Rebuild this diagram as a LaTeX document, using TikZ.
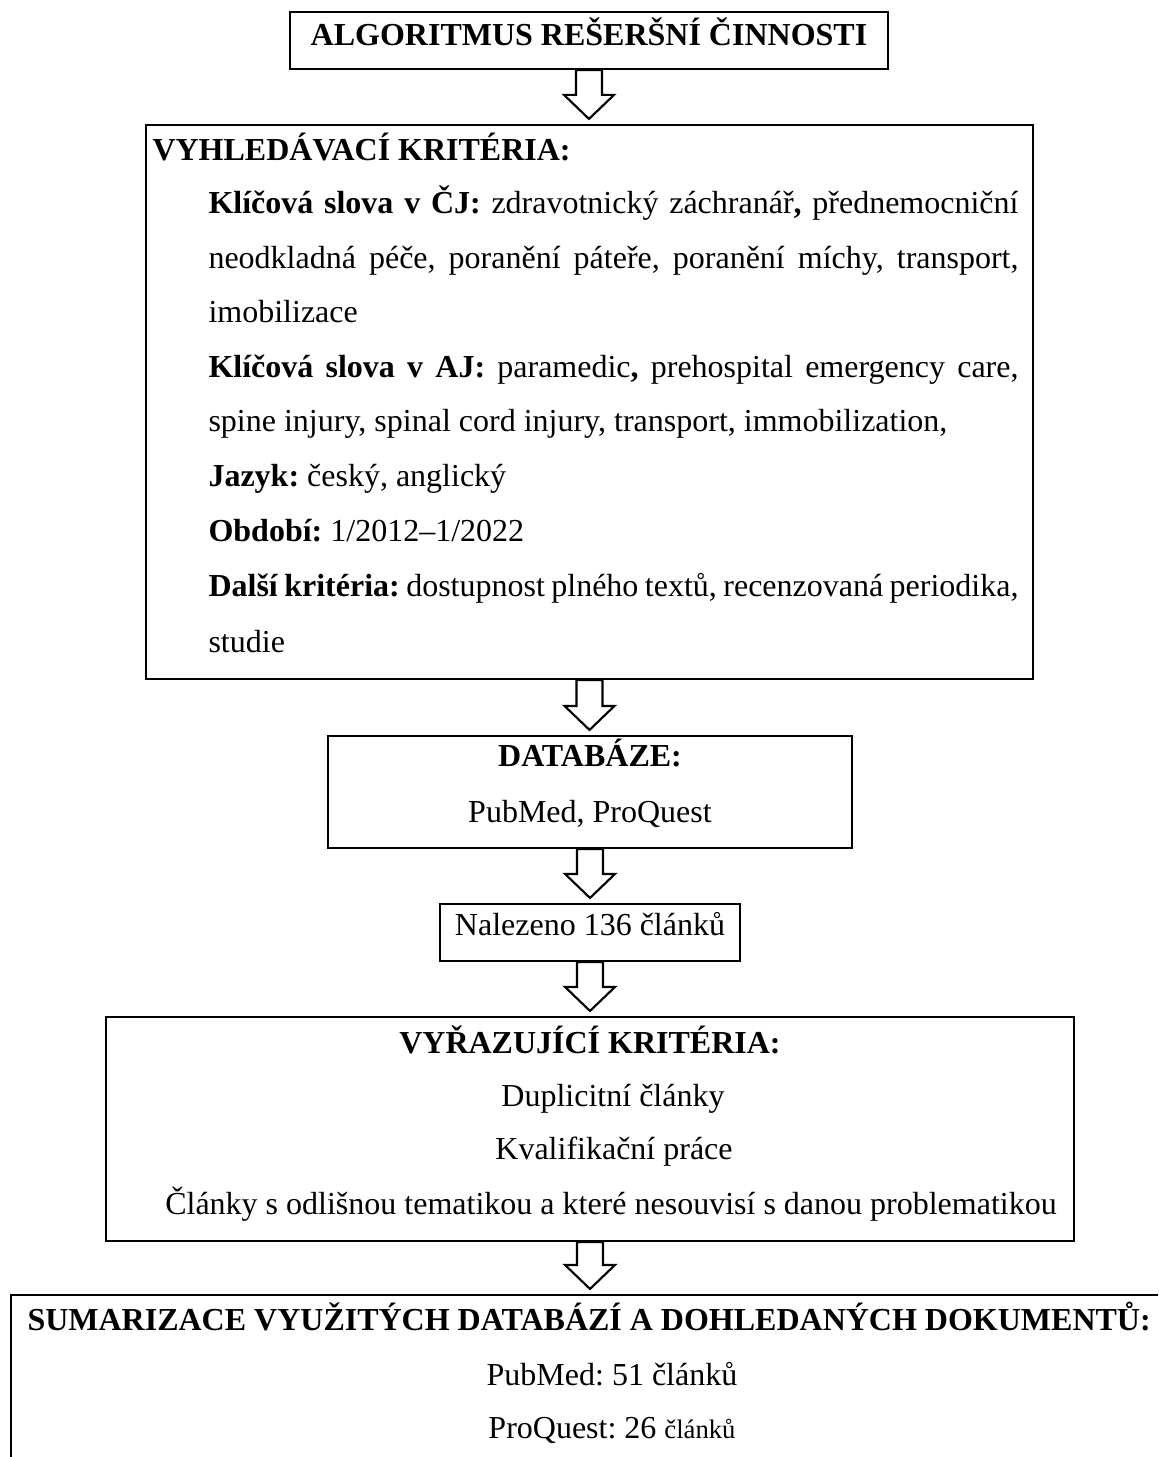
\documentclass[tikz,border=0pt]{standalone}
\usepackage{fontspec}
\setmainfont{Liberation Serif}
\usetikzlibrary{calc}
\frenchspacing
\tikzset{
  box/.style={draw, line width=0.8pt, rectangle, inner sep=0pt},
  txt/.style={anchor=base, inner sep=0pt, font=\fontsize{12pt}{14pt}\selectfont},
  txtw/.style={txt, anchor=base west},
  barrow/.style={draw, line width=0.8pt, fill=white, line join=miter},
}
\newcommand\blockarrow[2]{%
  \path[barrow] let \p1=(#1.south), \p2=(#2.north) in
  (\x1-4.875pt,\y1) -- (\x1-4.875pt,\y2+10.875pt) -- (\x1-9.375pt,\y2+10.875pt)
  -- (\x1,\y2+1.875pt) -- (\x1+9.375pt,\y2+10.875pt) -- (\x1+4.875pt,\y2+10.875pt)
  -- (\x1+4.875pt,\y1) -- cycle;}
\newcommand\jline[1]{\makebox[303.75pt][s]{#1}}
\begin{document}
\begin{tikzpicture}[x=0.375pt,y=-0.375pt]
\clip (0,0) rectangle (1158,1457);
\useasboundingbox (0,0) rectangle (1158,1457);
\fill[white] (0,0) rectangle (1158,1457);

% boxes
\node[box, minimum width=224.25pt, minimum height=21.375pt] (title) at (589,40.5) {};
\node[box, minimum width=332.625pt, minimum height=207.75pt] (crit) at (589.5,402) {};
\node[box, minimum width=196.5pt, minimum height=42pt] (db) at (590,792) {};
\node[box, minimum width=112.5pt, minimum height=21.375pt] (found) at (590,932.5) {};
\node[box, minimum width=363pt, minimum height=84pt] (excl) at (590,1129) {};
\node[box, minimum width=445.875pt, minimum height=76.875pt] (sum) at (605.5,1397.5) {};

% title
\node[txt] (t1) at (589,46) {\textbf{ALGORITMUS REŠERŠNÍ ČINNOSTI}};

% search criteria
\node[txtw] (c0) at (152,161) {\textbf{VYHLEDÁVACÍ KRITÉRIA:}};
\node[txtw] (c1) at (208,214) {\jline{\textbf{Klíčová slova v ČJ:} zdravotnický záchranář\textbf{,} přednemocniční}};
\node[txtw] (c2) at (208,268.5) {\jline{neodkladná péče, poranění páteře, poranění míchy, transport,}};
\node[txtw] (c3) at (208,323) {imobilizace};
\node[txtw] (c4) at (208,377.5) {\jline{\textbf{Klíčová slova v AJ:} paramedic\textbf{,} prehospital emergency care,}};
\node[txtw] (c5) at (208,432) {spine injury, spinal cord injury, transport, immobilization,};
\node[txtw] (c6) at (208,487) {\textbf{Jazyk:} český, anglický};
\node[txtw] (c7) at (208,542) {\textbf{Období:} 1/2012–1/2022};
\node[txtw] (c8) at (208,597) {\jline{\textbf{Další kritéria:} dostupnost plného textů, recenzovaná periodika,}};
\node[txtw] (c9) at (208,652) {studie};

% databases
\node[txt] (d1) at (590,766) {\textbf{DATABÁZE:}};
\node[txt] (d2) at (590,822) {PubMed, ProQuest};

% found
\node[txt] (f1) at (590,935) {Nalezeno 136 článků};

% exclusion
\node[txt] (e0) at (590,1053) {\textbf{VYŘAZUJÍCÍ KRITÉRIA:}};
\node[txt] (e1) at (613,1106) {Duplicitní články};
\node[txt] (e2) at (614,1159) {Kvalifikační práce};
\node[txt] (e3) at (611,1214) {Články s odlišnou tematikou a které nesouvisí s danou problematikou};

% summary
\node[txtw] (s0) at (27,1330) {\textbf{SUMARIZACE VYUŽITÝCH DATABÁZÍ A DOHLEDANÝCH DOKUMENTŮ:}};
\node[txt] (s1) at (612,1385) {PubMed: 51 článků};
\node[txt] (s2) at (612,1438) {ProQuest: 26 {\fontsize{10pt}{12pt}\selectfont článků}};

% block arrows
\blockarrow{title}{crit}
\blockarrow{crit}{db}
\blockarrow{db}{found}
\blockarrow{found}{excl}
\blockarrow{excl}{sum}
\end{tikzpicture}
\end{document}
